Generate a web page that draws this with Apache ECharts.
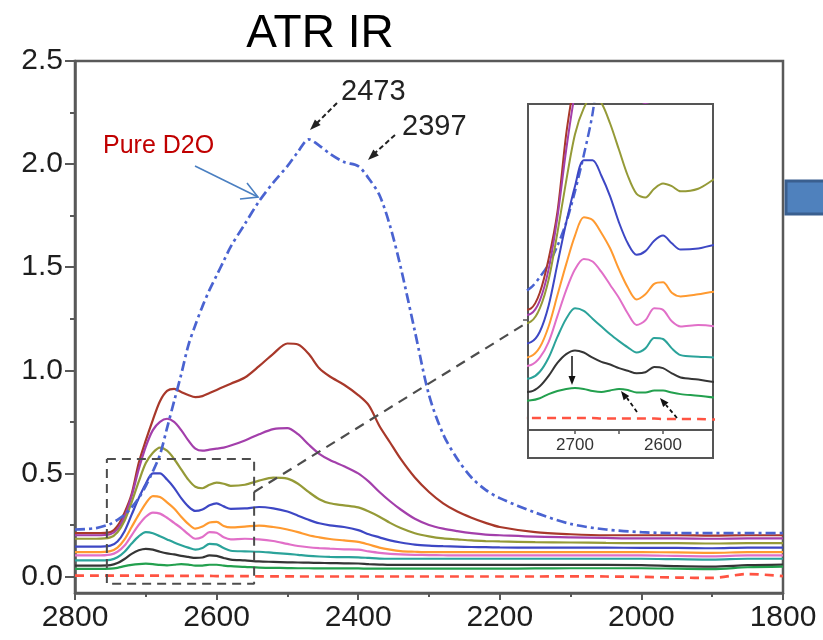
<!DOCTYPE html>
<html>
<head>
<meta charset="utf-8">
<script src="https://cdn.jsdelivr.net/npm/echarts@6/dist/echarts.min.js"></script>
<style>
html,body{margin:0;padding:0;background:#fff;}
#chart{width:823px;height:640px;}
</style>
</head>
<body>
<div id="chart"></div>
<script>
// Wavenumbers (cm-1)
var wavenumbers = [2800, 2770, 2750, 2740, 2730, 2720, 2710, 2700, 2690, 2680, 2670, 2660, 2650, 2640, 2630, 2620, 2610, 2600, 2590, 2580, 2560, 2540, 2520, 2500, 2485, 2470, 2455, 2440, 2420, 2400, 2385, 2370, 2355, 2340, 2320, 2300, 2280, 2260, 2240, 2220, 2200, 2150, 2100, 2050, 2000, 1950, 1900, 1850, 1800];

var pureD2O = [0.228, 0.235, 0.255, 0.275, 0.30, 0.335, 0.38, 0.44, 0.51, 0.59, 0.72, 0.85, 0.98, 1.12, 1.22, 1.31, 1.39, 1.46, 1.53, 1.60, 1.71, 1.82, 1.91, 1.99, 2.06, 2.12, 2.09, 2.05, 2.01, 1.99, 1.93, 1.85, 1.70, 1.50, 1.19, 0.88, 0.69, 0.57, 0.48, 0.42, 0.38, 0.31, 0.255, 0.228, 0.215, 0.21, 0.21, 0.21, 0.21];
var brown = [0.21, 0.21, 0.215, 0.245, 0.31, 0.40, 0.55, 0.66, 0.76, 0.85, 0.90, 0.91, 0.895, 0.88, 0.87, 0.875, 0.89, 0.905, 0.92, 0.935, 0.965, 1.02, 1.08, 1.13, 1.125, 1.08, 1.01, 0.97, 0.93, 0.88, 0.83, 0.73, 0.65, 0.57, 0.48, 0.41, 0.355, 0.315, 0.285, 0.26, 0.24, 0.215, 0.205, 0.20, 0.20, 0.20, 0.198, 0.20, 0.20];
var purple = [0.20, 0.20, 0.205, 0.23, 0.29, 0.39, 0.52, 0.63, 0.71, 0.75, 0.765, 0.75, 0.71, 0.66, 0.62, 0.61, 0.615, 0.62, 0.625, 0.635, 0.66, 0.69, 0.715, 0.72, 0.69, 0.64, 0.595, 0.565, 0.535, 0.50, 0.46, 0.41, 0.365, 0.325, 0.28, 0.25, 0.232, 0.22, 0.21, 0.203, 0.20, 0.193, 0.19, 0.187, 0.185, 0.185, 0.183, 0.185, 0.185];
var olive = [0.183, 0.183, 0.19, 0.215, 0.27, 0.36, 0.46, 0.55, 0.60, 0.625, 0.61, 0.57, 0.52, 0.47, 0.435, 0.428, 0.445, 0.455, 0.45, 0.44, 0.445, 0.465, 0.48, 0.475, 0.45, 0.41, 0.375, 0.355, 0.345, 0.335, 0.315, 0.29, 0.26, 0.235, 0.21, 0.195, 0.185, 0.18, 0.175, 0.172, 0.17, 0.167, 0.165, 0.163, 0.162, 0.162, 0.16, 0.162, 0.162];
var blue = [0.145, 0.145, 0.15, 0.17, 0.22, 0.30, 0.38, 0.45, 0.50, 0.50, 0.47, 0.43, 0.38, 0.34, 0.318, 0.325, 0.345, 0.355, 0.34, 0.328, 0.33, 0.337, 0.33, 0.315, 0.295, 0.275, 0.258, 0.248, 0.24, 0.225, 0.205, 0.19, 0.175, 0.165, 0.155, 0.15, 0.147, 0.145, 0.143, 0.142, 0.141, 0.14, 0.14, 0.14, 0.139, 0.139, 0.137, 0.14, 0.14];
var orange = [0.118, 0.118, 0.123, 0.14, 0.18, 0.24, 0.30, 0.355, 0.39, 0.385, 0.36, 0.33, 0.29, 0.255, 0.232, 0.242, 0.262, 0.265, 0.245, 0.238, 0.242, 0.247, 0.24, 0.228, 0.215, 0.20, 0.19, 0.182, 0.175, 0.168, 0.155, 0.14, 0.13, 0.123, 0.12, 0.118, 0.118, 0.118, 0.118, 0.118, 0.118, 0.118, 0.118, 0.118, 0.118, 0.117, 0.115, 0.118, 0.118];
var pink = [0.102, 0.102, 0.106, 0.12, 0.15, 0.20, 0.25, 0.29, 0.31, 0.305, 0.285, 0.26, 0.235, 0.205, 0.183, 0.192, 0.215, 0.212, 0.19, 0.18, 0.183, 0.18, 0.172, 0.158, 0.148, 0.142, 0.138, 0.135, 0.132, 0.13, 0.122, 0.115, 0.11, 0.107, 0.105, 0.104, 0.103, 0.102, 0.102, 0.102, 0.102, 0.102, 0.102, 0.102, 0.102, 0.10, 0.098, 0.102, 0.102];
var teal = [0.078, 0.078, 0.081, 0.093, 0.12, 0.16, 0.195, 0.215, 0.21, 0.195, 0.18, 0.165, 0.152, 0.14, 0.13, 0.138, 0.158, 0.156, 0.138, 0.125, 0.122, 0.12, 0.115, 0.11, 0.105, 0.10, 0.097, 0.095, 0.094, 0.093, 0.09, 0.087, 0.086, 0.086, 0.086, 0.086, 0.086, 0.086, 0.086, 0.086, 0.086, 0.086, 0.086, 0.086, 0.086, 0.084, 0.082, 0.086, 0.086];
var black = [0.053, 0.053, 0.055, 0.065, 0.085, 0.11, 0.127, 0.134, 0.13, 0.12, 0.112, 0.107, 0.10, 0.095, 0.09, 0.092, 0.102, 0.10, 0.09, 0.082, 0.078, 0.073, 0.071, 0.069, 0.068, 0.067, 0.066, 0.065, 0.064, 0.063, 0.06, 0.058, 0.056, 0.056, 0.056, 0.056, 0.056, 0.056, 0.056, 0.056, 0.056, 0.056, 0.056, 0.056, 0.055, 0.05, 0.048, 0.055, 0.058];
var green = [0.037, 0.037, 0.038, 0.042, 0.05, 0.056, 0.06, 0.062, 0.06, 0.056, 0.054, 0.057, 0.06, 0.058, 0.053, 0.053, 0.057, 0.057, 0.053, 0.05, 0.047, 0.043, 0.042, 0.041, 0.04, 0.04, 0.039, 0.039, 0.039, 0.039, 0.038, 0.038, 0.038, 0.038, 0.038, 0.038, 0.038, 0.038, 0.038, 0.038, 0.038, 0.039, 0.04, 0.04, 0.04, 0.038, 0.036, 0.045, 0.048];
var redBase = [0.004, 0.004, 0.004, 0.004, 0.004, 0.004, 0.004, 0.004, 0.004, 0.004, 0.003, 0.003, 0.003, 0.003, 0.003, 0.003, 0.003, 0.002, 0.002, 0.002, 0.002, 0.001, 0.001, 0.001, 0.0, 0.0, 0.0, 0.0, 0.0, 0.0, 0.0, 0.0, 0.0, 0.0, 0.0, 0.0, 0.0, 0.0, 0.0, 0.0, 0.0, 0.0, 0.001, 0.0, -0.002, -0.005, -0.007, 0.012, 0.002];

// axis tick labels
var xTicks = [2800, 2600, 2400, 2200, 2000, 1800];
var yTicks = [0, 0.5, 1.0, 1.5, 2.0, 2.5];
var yMinorTicks = [0.25, 0.75, 1.25, 1.75, 2.25];
var insetXLabels = [2700, 2600];
var insetXTicks = [2700, 2650, 2600];

// zoom box (data coordinates) and connector
var zoomBox = [[2755, 0.57], [2547, 0.57], [2547, -0.035], [2755, -0.035], [2755, 0.57]];
var connector = [[2547, 0.41], [2162, 1.23]];

var FONT = 'Liberation Sans, Arial, Helvetica, sans-serif';

var curves = [
  {name: 'brown', data: brown, color: '#a8382a'},
  {name: 'purple', data: purple, color: '#a33fab'},
  {name: 'olive', data: olive, color: '#959a37'},
  {name: 'blue', data: blue, color: '#3d47c4'},
  {name: 'orange', data: orange, color: '#ff9a30'},
  {name: 'pink', data: pink, color: '#e16fc8'},
  {name: 'teal', data: teal, color: '#2ba39a'},
  {name: 'black', data: black, color: '#353535'},
  {name: 'green', data: green, color: '#23a04e'}
];

function pairs(arr) { return wavenumbers.map(function (w, i) { return [w, arr[i]]; }); }

function buildSeries(xi, yi, lw, d2oZ) {
  var out = [];
  out.push({
    type: 'line', name: 'Pure D2O', xAxisIndex: xi, yAxisIndex: yi, data: pairs(pureD2O),
    showSymbol: false, symbol: 'none', smooth: 0.3, clip: true,
    lineStyle: {color: '#4a63d1', width: lw + 0.5, type: [10, 4, 3, 4]}, z: d2oZ
  });
  curves.forEach(function (c) {
    out.push({
      type: 'line', name: c.name, xAxisIndex: xi, yAxisIndex: yi, data: pairs(c.data),
      showSymbol: false, symbol: 'none', smooth: 0.3, clip: true,
      lineStyle: {color: c.color, width: lw}, z: 3
    });
  });
  out.push({
    type: 'line', name: 'baseline', xAxisIndex: xi, yAxisIndex: yi, data: pairs(redBase),
    showSymbol: false, symbol: 'none', smooth: 0.3, clip: true,
    lineStyle: {color: '#ff5342', width: lw + 0.5, type: [9, 6]}, z: 3
  });
  return out;
}

var series = buildSeries(0, 0, 2.2, 4).concat(buildSeries(1, 2, 2, 2));
series.push({
  type: 'line', xAxisIndex: 0, yAxisIndex: 0, data: zoomBox, showSymbol: false, symbol: 'none',
  lineStyle: {color: '#4d4d4d', width: 2, type: [9, 6]}, z: 5, clip: false
});
series.push({
  type: 'line', xAxisIndex: 0, yAxisIndex: 0, data: connector, showSymbol: false, symbol: 'none',
  lineStyle: {color: '#4d4d4d', width: 2.2, type: [10, 7]}, z: 5, clip: false
});

var chart = echarts.init(document.getElementById('chart'), null, {renderer: 'canvas'});

function arrowHead(tip, from, len, half) {
  var dx = tip[0] - from[0], dy = tip[1] - from[1];
  var d = Math.sqrt(dx * dx + dy * dy); dx /= d; dy /= d;
  var bx = tip[0] - dx * len, by = tip[1] - dy * len;
  return [[tip[0], tip[1]], [bx - dy * half, by + dx * half], [bx + dy * half, by - dx * half]];
}

var option = {
  animation: false,
  backgroundColor: '#ffffff',
  grid: [
    {left: 75, right: 40, top: 61, bottom: 47, show: true, borderColor: '#595959', borderWidth: 2.5, backgroundColor: 'transparent', outerBoundsMode: 'none', containLabel: false},
    {left: 528, top: 104, width: 185, height: 326, show: false, outerBoundsMode: 'none', containLabel: false}
  ],
  xAxis: [
    {
      type: 'value', gridIndex: 0, min: 1800, max: 2800, interval: 200, inverse: true,
      axisLine: {show: true, onZero: false, lineStyle: {color: '#595959', width: 2.5}},
      axisTick: {show: true, length: 7, inside: false, lineStyle: {color: '#595959', width: 2}},
      minorTick: {show: true, splitNumber: 2, length: 4, lineStyle: {color: '#595959', width: 2}},
      axisLabel: {show: true, margin: 10, fontSize: 30, color: '#1e1e1e', fontFamily: FONT,
        customValues: xTicks, formatter: function (v) { return String(v); }},
      splitLine: {show: false}
    },
    {
      type: 'value', gridIndex: 1, min: 2543.2, max: 2753.4, inverse: true, z: 12,
      axisLine: {show: true, onZero: false, lineStyle: {color: '#555555', width: 2}},
      axisTick: {show: true, length: 4, customValues: insetXTicks, lineStyle: {color: '#555555', width: 1.5}},
      axisLabel: {show: true, margin: 7, fontSize: 17, color: '#333333', fontFamily: FONT,
        customValues: insetXLabels, formatter: function (v) { return String(v); }},
      splitLine: {show: false}
    }
  ],
  yAxis: [
    {
      type: 'value', gridIndex: 0, min: -0.08, max: 2.5, position: 'left',
      axisLine: {show: true, onZero: false, lineStyle: {color: '#595959', width: 2.5}},
      axisTick: {show: true, length: 10, customValues: yTicks, lineStyle: {color: '#595959', width: 2}},
      axisLabel: {show: true, margin: 12, fontSize: 30, color: '#1e1e1e', fontFamily: FONT,
        customValues: yTicks, formatter: function (v) { return v.toFixed(1); }},
      splitLine: {show: false}
    },
    {
      type: 'value', gridIndex: 0, min: -0.08, max: 2.5, position: 'left', offset: 0,
      axisLine: {show: false},
      axisTick: {show: true, length: 5, customValues: yMinorTicks, lineStyle: {color: '#595959', width: 2}},
      axisLabel: {show: false},
      splitLine: {show: false}
    },
    {
      type: 'value', gridIndex: 1, min: -0.019, max: 0.608,
      axisLine: {show: false},
      axisTick: {show: false},
      axisLabel: {show: false},
      splitLine: {show: false}
    }
  ],
  graphic: [
    {type: 'rect', shape: {x: 528, y: 104, width: 185, height: 354}, style: {fill: '#ffffff', stroke: '#555555', lineWidth: 2}, z: 1},
    {type: 'rect', shape: {x: 786, y: 181, width: 45, height: 33}, style: {fill: '#4f81bd', stroke: '#3a5f8f', lineWidth: 3}, z: 1},
    {type: 'text', x: 320, y: 34, style: {text: 'ATR IR', fontSize: 46, fontFamily: FONT, fill: '#000000', textAlign: 'center', textVerticalAlign: 'middle'}, z: 10},
    {type: 'text', x: 103, y: 146, style: {text: 'Pure D2O', fontSize: 25, fontFamily: FONT, fill: '#c00000', textAlign: 'left', textVerticalAlign: 'middle'}, z: 10},
    {type: 'polyline', shape: {points: [[195, 166], [258, 197]]}, style: {stroke: '#4a7fc1', lineWidth: 1.6, fill: null}, z: 10},
    {type: 'polyline', shape: {points: [[247, 183], [258, 197], [240, 199]]}, style: {stroke: '#4a7fc1', lineWidth: 1.6, fill: null}, z: 10},
    {type: 'text', x: 341, y: 92, style: {text: '2473', fontSize: 29, fontFamily: FONT, fill: '#222222', textAlign: 'left', textVerticalAlign: 'middle'}, z: 10},
    {type: 'text', x: 402, y: 127, style: {text: '2397', fontSize: 29, fontFamily: FONT, fill: '#222222', textAlign: 'left', textVerticalAlign: 'middle'}, z: 10},
    {type: 'polyline', shape: {points: [[337, 103], [317, 123]]}, style: {stroke: '#222222', lineWidth: 2, lineDash: [5, 3], fill: null}, z: 10},
    {type: 'polygon', shape: {points: arrowHead([310, 130], [337, 103], 11, 4)}, style: {fill: '#222222'}, z: 10},
    {type: 'polyline', shape: {points: [[395, 135], [375, 153]]}, style: {stroke: '#222222', lineWidth: 2, lineDash: [5, 3], fill: null}, z: 10},
    {type: 'polygon', shape: {points: arrowHead([368, 160], [395, 135], 11, 4)}, style: {fill: '#222222'}, z: 10},
    {type: 'polyline', shape: {points: [[572, 356], [572, 376]]}, style: {stroke: '#111111', lineWidth: 1.5, fill: null}, z: 10},
    {type: 'polygon', shape: {points: arrowHead([572, 385], [572, 356], 9, 3.5)}, style: {fill: '#111111'}, z: 10},
    {type: 'polyline', shape: {points: [[637, 412], [627, 398]]}, style: {stroke: '#111111', lineWidth: 1.8, lineDash: [4, 3], fill: null}, z: 10},
    {type: 'polygon', shape: {points: arrowHead([621, 391], [637, 412], 9, 3.5)}, style: {fill: '#111111'}, z: 10},
    {type: 'polyline', shape: {points: [[677, 418], [666, 405]]}, style: {stroke: '#111111', lineWidth: 1.8, lineDash: [4, 3], fill: null}, z: 10},
    {type: 'polygon', shape: {points: arrowHead([660, 398], [677, 418], 9, 3.5)}, style: {fill: '#111111'}, z: 10},
    {type: 'polyline', shape: {points: [[523, 320], [528, 320]]}, style: {stroke: '#555555', lineWidth: 1.5, fill: null}, z: 10}
  ],
  series: series
};

chart.setOption(option);
</script>
</body>
</html>
